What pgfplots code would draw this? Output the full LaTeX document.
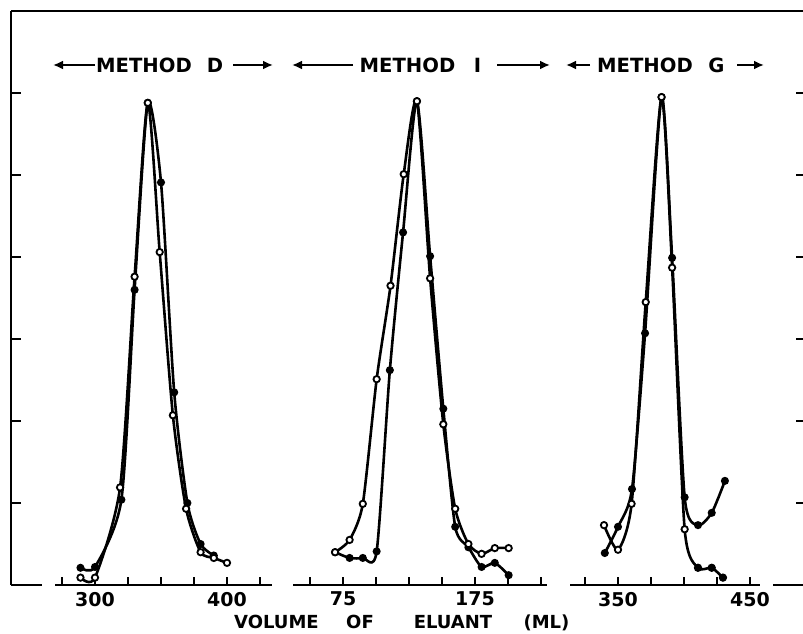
\documentclass[border=0pt]{standalone}
\usepackage{pgfplots}
\pgfplotsset{compat=1.18}
\usepackage{fontspec}
\setmainfont{DejaVu Sans}
\usetikzlibrary{arrows.meta}
\begin{document}
\begin{tikzpicture}
\path[use as bounding box] (0,0) rectangle (401.5pt,316.5pt);
\pgfplotsset{
  panel/.style={
    anchor=south west, scale only axis, height=287pt,
    ymin=0, ymax=7,
    axis x line=bottom, axis y line=none,
    axis line style={-, line width=1.3pt},
    tick align=inside, major tick length=4pt,
    every tick/.style={line width=1.1pt, black},
    xticklabel style={font=\bfseries\fontsize{9.5}{10}\selectfont},
    clip=false,
  },
  filled/.style={black, line width=1.3pt, smooth, tension=0.4, mark=*, mark size=1.6pt, mark options={fill=black, line width=0.8pt}},
  open/.style={black, line width=1.3pt, smooth, tension=0.4, mark=*, mark size=1.6pt, mark options={fill=white, line width=0.9pt}},
}
% outer frame
\begin{axis}[anchor=south west, at={(5.5pt,24pt)}, scale only axis, width=397.5pt, height=287pt,
  xmin=11, xmax=806, ymin=0, ymax=7,
  axis x line=top, axis y line=box, axis line style={-, line width=1.3pt},
  xtick=\empty, ytick={1,2,3,4,5,6}, yticklabels={}, tick align=inside, major tick length=5pt,
  every tick/.style={line width=1.1pt, black}, clip=false]
\draw[line width=1.3pt] (axis cs:11,0) -- (axis cs:42,0);
\draw[line width=1.3pt] (axis cs:773,0) -- (axis cs:806,0);
\end{axis}
% Method D
\begin{axis}[panel, at={(27.5pt,24pt)}, width=108.5pt, xmin=269.7, xmax=434.09,
  xtick={275,300,325,350,375,400,425}, xticklabels={,300,,,,400,}]
\addplot[filled] coordinates {(289,0.21)(300,0.22)(320,1.04)(330,3.6)(340,5.88)(350,4.91)(360,2.35)(370,1.0)(380,0.5)(390,0.36)};
\addplot[open] coordinates {(289,0.09)(300,0.09)(319,1.19)(330,3.76)(340,5.88)(349,4.06)(359,2.07)(369,0.93)(380,0.40)(390,0.33)(400,0.27)};
\end{axis}
% Method I
\begin{axis}[panel, at={(146.5pt,24pt)}, width=127pt, xmin=37.12, xmax=229.55,
  xtick={50,75,100,125,150,175,200,225}, xticklabels={,75,,,,175,,}]
\addplot[filled] coordinates {(69,0.40)(80,0.33)(90,0.33)(100.5,0.41)(110.5,2.62)(120.5,4.3)(131,5.9)(141,4.01)(151,2.15)(160,0.71)(170,0.46)(180,0.22)(190,0.27)(200.5,0.12)};
\addplot[open] coordinates {(69,0.40)(80,0.55)(90,0.99)(100.5,2.51)(111,3.65)(121,5.01)(131,5.9)(141,3.74)(151,1.96)(160,0.93)(170,0.5)(180,0.38)(190,0.45)(200.5,0.45)};
\end{axis}
% Method G
\begin{axis}[panel, at={(285pt,24pt)}, width=95pt, xmin=313.64, xmax=457.58,
  xtick={325,350,375,400,425,450}, xticklabels={,350,,,,450}]
\addplot[filled] coordinates {(340,0.39)(350,0.71)(360.6,1.17)(370.5,3.07)(383,5.95)(391,3.99)(400.5,1.07)(410.6,0.73)(421,0.88)(431,1.27)};
\addplot[open] coordinates {(339.4,0.73)(350,0.43)(360.3,0.99)(371,3.45)(383,5.95)(391,3.87)(400.5,0.68)(410.6,0.21)(421,0.21)(429.5,0.09)};
\addplot[only marks, mark=*, mark size=1.6pt, black] coordinates {(410.6,0.21)(421,0.21)(429.5,0.09)};
\end{axis}
% titles and axis label
\begin{scope}[x=0.5pt,y=0.5pt]
\tikzset{ttl/.style={font=\bfseries\fontsize{9.8}{10}\selectfont, inner sep=0pt, anchor=base},
  arr/.style={line width=1.3pt, -{Latex[length=5pt,width=4.5pt]}},
  xl/.style={font=\bfseries\fontsize{9}{10}\selectfont, inner sep=0pt, anchor=base}}
\node[ttl] at (144,560) {METHOD};
\node[ttl] at (215,560) {D};
\draw[arr] (95,568) -- (53,568);
\draw[arr] (233,568) -- (273,568);
\node[ttl] at (407.5,560) {METHOD};
\node[ttl] at (477.5,560) {I};
\draw[arr] (353,568) -- (292,568);
\draw[arr] (497,568) -- (550,568);
\node[ttl] at (645,560) {METHOD};
\node[ttl] at (716.5,560) {G};
\draw[arr] (590,568) -- (566,568);
\draw[arr] (737,568) -- (764,568);
\node[xl] at (276.5,5) {VOLUME};
\node[xl] at (360,5) {OF};
\node[xl] at (453,5) {ELUANT};
\node[xl] at (546.5,5) {(ML)};
\end{scope}
\end{tikzpicture}
\end{document}
